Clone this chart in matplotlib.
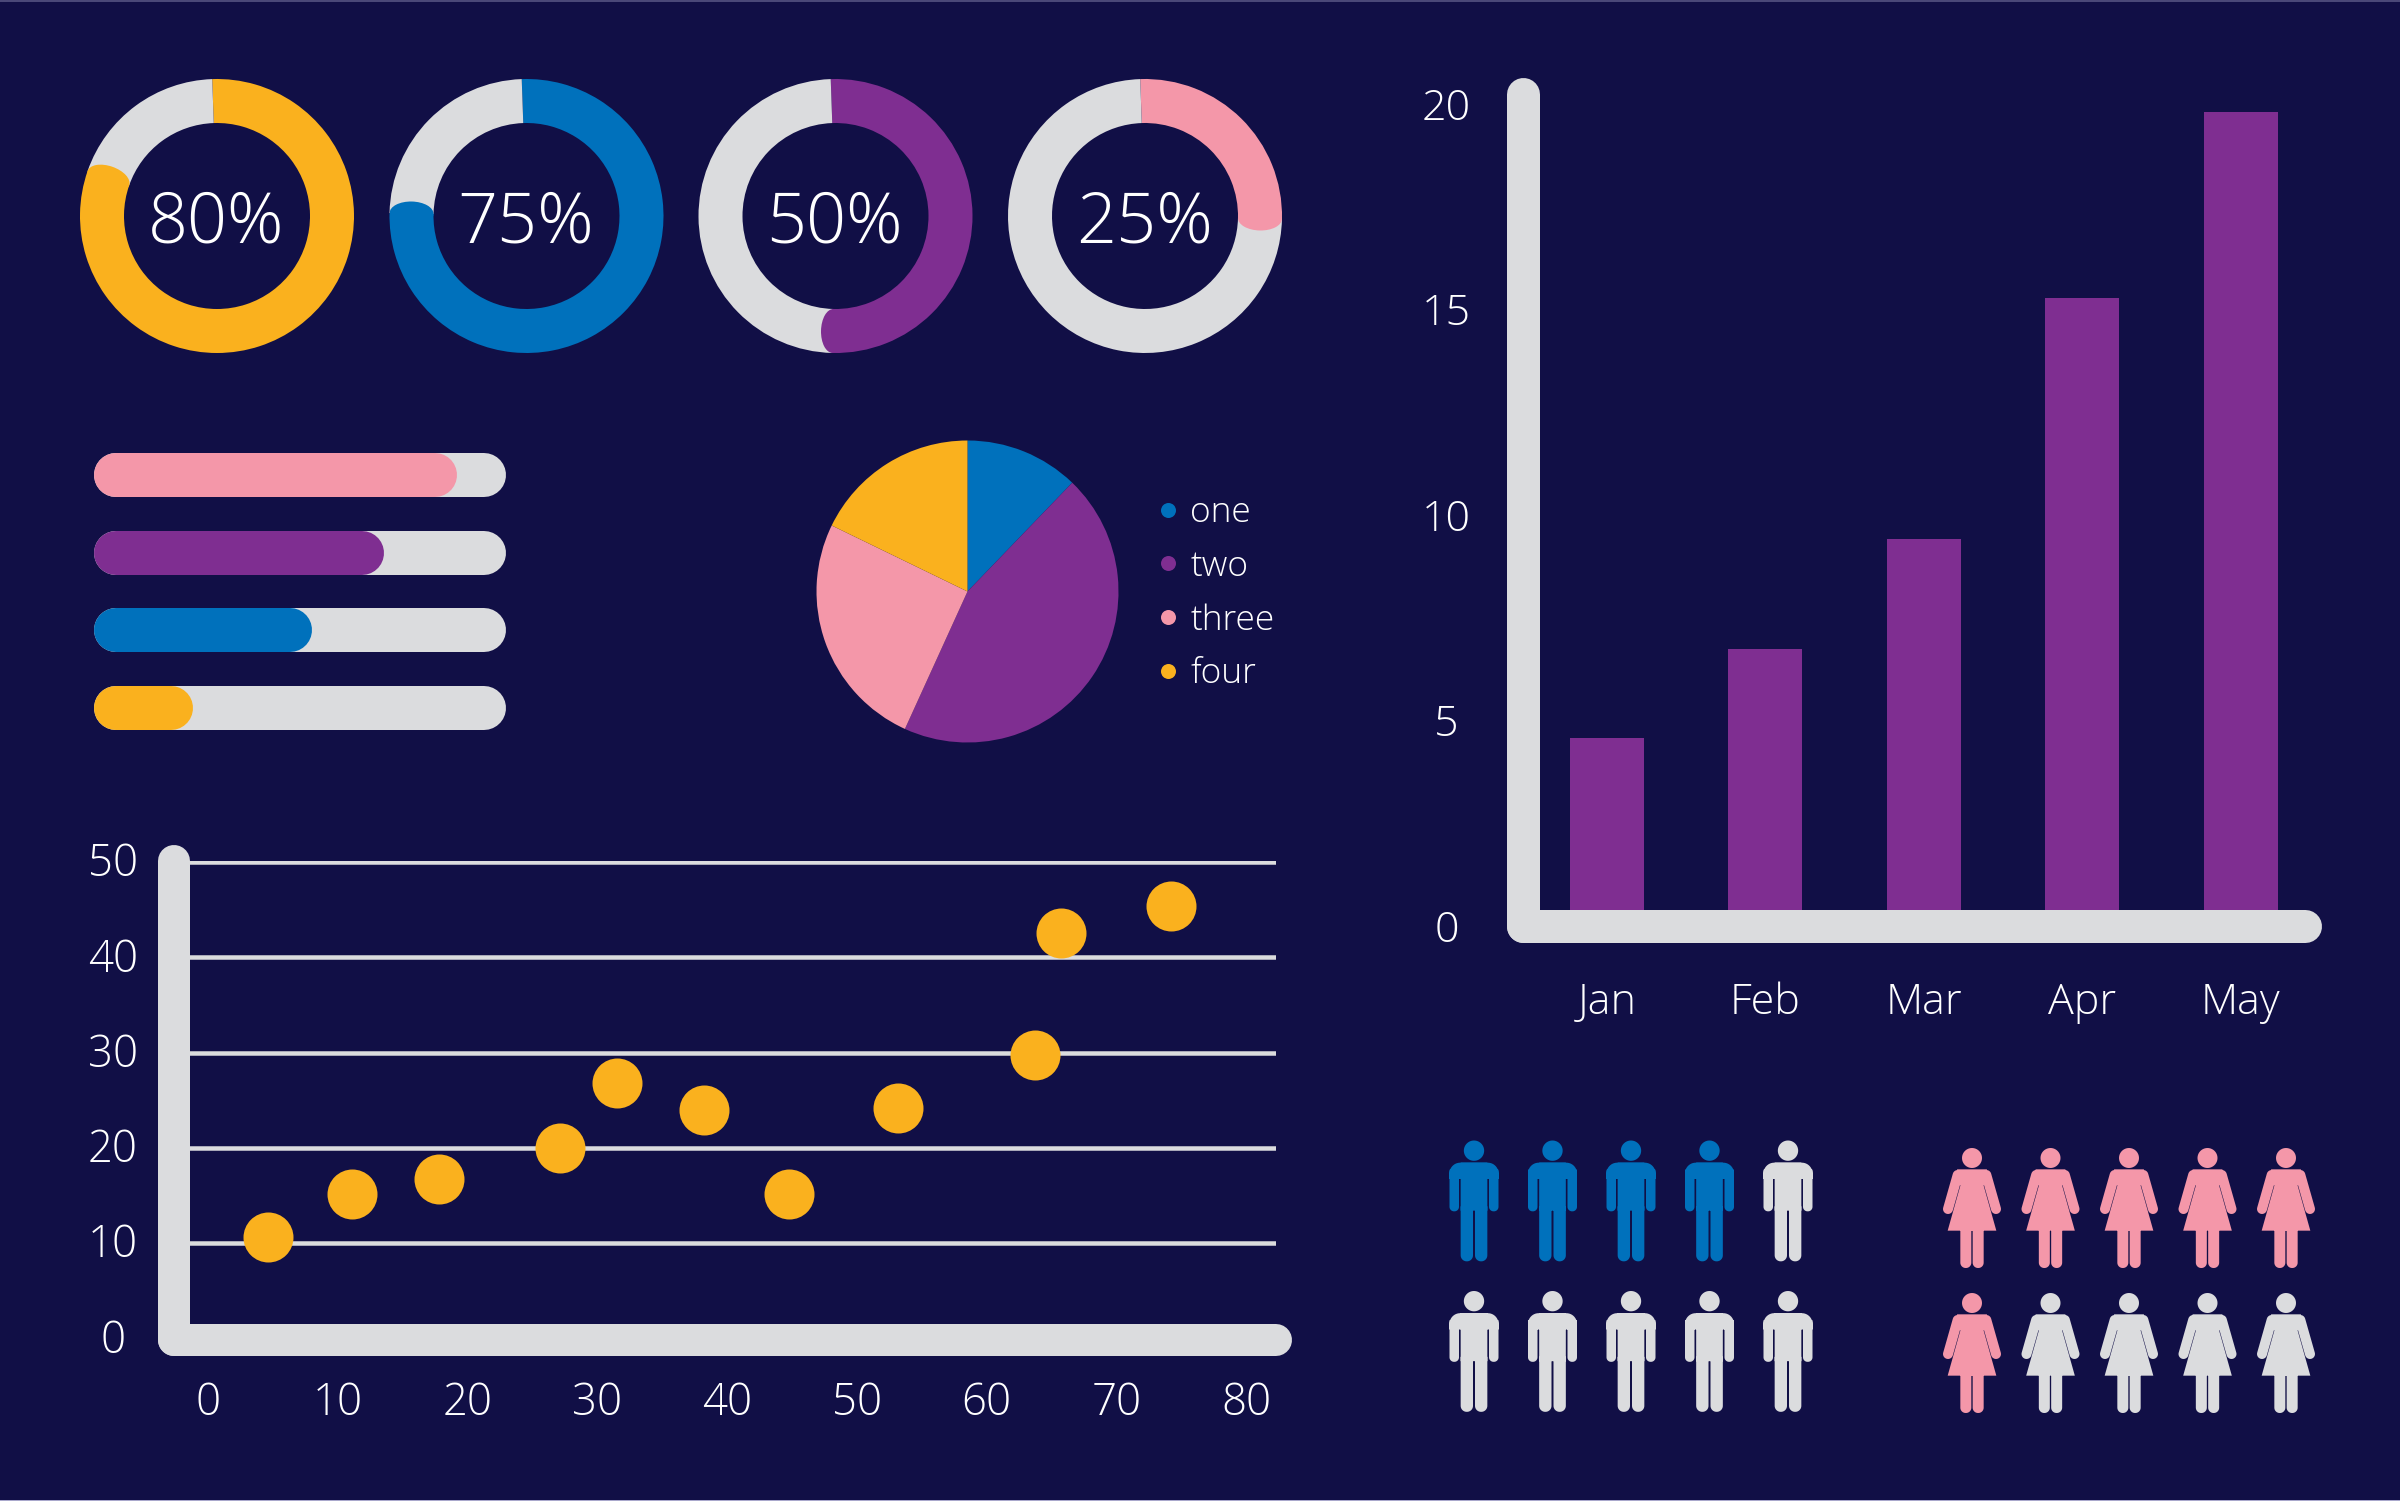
import numpy as np
import matplotlib
matplotlib.use("Agg")
import matplotlib.pyplot as plt
import matplotlib.transforms as mtrans
from matplotlib.patches import Ellipse, Rectangle
from matplotlib.path import Path
from matplotlib.lines import Line2D
from matplotlib import font_manager as fm

# ---------- data ----------
donut_values = [80, 75, 50, 25]
progress_values = [88, 70.5, 53, 24]
pie_labels = ["one", "two", "three", "four"]
pie_values = [12.2, 44.6, 25.4, 17.8]
scatter_x = [4.6, 11.1, 17.8, 27.1, 31.5, 38.2, 44.8, 53.2, 63.7, 65.7, 74.2]
scatter_y = [10.7, 15.2, 16.7, 20.0, 26.8, 24.0, 15.2, 24.2, 29.8, 42.5, 45.4]
scatter_xticks = [0, 10, 20, 30, 40, 50, 60, 70, 80]
scatter_yticks = [0, 10, 20, 30, 40, 50]
months = ["Jan", "Feb", "Mar", "Apr", "May"]
month_values = [4.58, 6.74, 9.42, 15.27, 19.8]
bar_yticks = [0, 5, 10, 15, 20]
men_filled = 4
women_filled = 6
people_total = 10

# ---------- style ----------
W, H = 2400, 1501
BG = "#110F46"
ORANGE = "#FAB11E"
BLUE = "#0071BC"
PURPLE = "#7F2E91"
PINK = "#F497A9"
GREY = "#DBDCDE"
lights = sorted({f.name for f in fm.fontManager.ttflist if f.weight in (200, 300, "light", "extra light")})
FAMILY = "Open Sans" if "Open Sans" in lights else (lights[0] if lights else "Open Sans")
plt.rcParams["font.family"] = [FAMILY, "DejaVu Sans"]
plt.rcParams["font.weight"] = "light"
PX = 72 / 100  # points per pixel at dpi 100

fig = plt.figure(figsize=(W / 100, H / 100), dpi=100, facecolor=BG)
fig.add_artist(Rectangle((0, 1 - 1.5 / H), 1, 1.5 / H, transform=fig.transFigure, fc="#4A4878", lw=0))
fig.add_artist(Rectangle((0, 0), 1, 1.5 / H, transform=fig.transFigure, fc="#A9A8CC", lw=0))


def px_axes(x0, y0, x1, y1):
    ax = fig.add_axes([x0 / W, 1 - y1 / H, (x1 - x0) / W, (y1 - y0) / H])
    ax.set_facecolor("none")
    return ax


# ---------- donuts ----------
donut_centres = [217, 526.5, 835.5, 1145]
donut_colors = [ORANGE, BLUE, PURPLE, PINK]
R_OUT, R_IN = 137, 93
START = 2.0     # degrees the ring start sits left of twelve o'clock
OVER = 0.9      # share the drawn arc runs past its value, with the flat cap
for cx, v, c in zip(donut_centres, donut_values, donut_colors):
    ax = px_axes(cx - R_OUT, 216 - R_OUT, cx + R_OUT, 216 + R_OUT)
    shown = v + OVER
    ax.pie([shown, 100 - shown], colors=[c, GREY], startangle=90 + START, counterclock=False,
           radius=1, wedgeprops=dict(width=(R_OUT - R_IN) / R_OUT, linewidth=0))
    deg = 90 + START - shown * 3.6
    a = np.deg2rad(deg)
    rm = (R_OUT + R_IN) / 2 / R_OUT
    ax.add_patch(Ellipse((rm * np.cos(a), rm * np.sin(a)), 2 * 12 / R_OUT, (R_OUT - R_IN) / R_OUT,
                         angle=deg + 90, fc=c, lw=0, zorder=5))
    ax.set_xlim(-1, 1)
    ax.set_ylim(-1, 1)
    ax.text(-0.005, -0.06, f"{v}%", color="white", fontsize=50.5, ha="center", va="center", zorder=6)

# ---------- progress bars ----------
ax = px_axes(94, 453, 506, 730)
ax.set_xlim(0, 100)
ax.set_ylim(3.283, -0.283)
ax.axis("off")
cap = 22 / 412 * 100
for i, (v, c) in enumerate(zip(progress_values, [PINK, PURPLE, BLUE, ORANGE])):
    ax.plot([cap, 100 - cap], [i, i], color=GREY, lw=44 * PX, solid_capstyle="round", clip_on=False)
    ax.plot([cap, v - cap], [i, i], color=c, lw=44 * PX, solid_capstyle="round", clip_on=False)

# ---------- pie ----------
ax = px_axes(967.5 - 151, 591.5 - 151, 967.5 + 151, 591.5 + 151)
pie_colors = [BLUE, PURPLE, PINK, ORANGE]
ax.pie(pie_values, colors=pie_colors, startangle=90, counterclock=False, radius=1, wedgeprops=dict(linewidth=0))
ax.set_xlim(-1, 1)
ax.set_ylim(-1, 1)
handles = [Line2D([], [], ls="", marker="o", ms=15 * PX, mfc=c, mec="none", label=l)
           for c, l in zip(pie_colors, pie_labels)]
leg = fig.legend(handles=handles, loc="upper left", bbox_to_anchor=(1150 / W, 1 - 495.5 / H),
                 bbox_transform=fig.transFigure, frameon=False, fontsize=25.5, labelcolor="white",
                 handlelength=1.0, handletextpad=0.14, labelspacing=0.545, borderpad=0, borderaxespad=0)


# ---------- axis styling shared by the two charts ----------
def frame(ax, lw_px, ypad, xpad, label_shift_px, size):
    for s in ["top", "right"]:
        ax.spines[s].set_visible(False)
    for s in ["left", "bottom"]:
        ax.spines[s].set_linewidth(lw_px * PX)
        ax.spines[s].set_color(GREY)
        ax.spines[s].set_capstyle("round")
        ax.spines[s].set_zorder(6)
    ax.tick_params(axis="both", length=0, colors="white", labelsize=size)
    ax.tick_params(axis="y", pad=ypad)
    ax.tick_params(axis="x", pad=xpad)
    shift = mtrans.ScaledTranslation(0, label_shift_px * PX / 72, fig.dpi_scale_trans)
    for t in ax.get_yticklabels():
        t.set_ha("center")
        t.set_transform(t.get_transform() + shift)


# ---------- scatter ----------
ax = px_axes(174, 861, 1276, 1340)
ax.set_xlim(-2.62, 82.3)
ax.set_ylim(-0.15, 50.1)
ax.set_xticks(scatter_xticks)
ax.set_yticks(scatter_yticks)
ax.set_axisbelow(True)
ax.grid(axis="y", color=GREY, lw=4.5 * PX)
ax.scatter(scatter_x, scatter_y, s=(50 * PX) ** 2, color=ORANGE, lw=0, zorder=4, clip_on=False)
frame(ax, 32, 44, 30, 2.5, 31.5)

# ---------- bars ----------
ax = px_axes(1523, 94, 2305, 926)
ax.set_xlim(-0.53, 4.406)
ax.set_ylim(0, 20.24)
ax.bar(months, month_values, width=0.467, color=PURPLE, lw=0, zorder=3)
ax.set_yticks(bar_yticks)
frame(ax, 33, 55, 40, 0.5, 31)


# ---------- pictograms ----------
def rrect(x0, x1, y0, y1, rb=0.0, rt=0.0, n=12):
    """Rounded rectangle outline, same winding for every call."""
    pts = []
    for cx, cy, r, a0 in [(x1 - rb, y1 - rb, rb, 0), (x0 + rb, y1 - rb, rb, 90),
                          (x0 + rt, y0 + rt, rt, 180), (x1 - rt, y0 + rt, rt, 270)]:
        t = np.deg2rad(np.linspace(a0, a0 + 90, n))
        pts.append(np.c_[cx + r * np.cos(t), cy + r * np.sin(t)])
    return np.vstack(pts)


def circle(cx, cy, r, n=48):
    t = np.linspace(0, 2 * np.pi, n)
    return np.c_[cx + r * np.cos(t), cy + r * np.sin(t)]


def stadium(p, q, r, n=14):
    p, q = np.array(p, float), np.array(q, float)
    a = np.arctan2(*(q - p)[::-1])
    t1 = np.linspace(a - np.pi / 2, a + np.pi / 2, n)
    t2 = t1 + np.pi
    return np.vstack([q + r * np.c_[np.cos(t1), np.sin(t1)], p + r * np.c_[np.cos(t2), np.sin(t2)]])


def glyph(parts, ymid, half):
    paths = []
    for pts in parts:
        pts = np.array(pts, float)
        xy = np.c_[pts[:, 0] / half, -(pts[:, 1] - ymid) / half]
        # keep one winding direction so overlaps stay filled
        area = 0.5 * np.sum(xy[:, 0] * np.roll(xy[:, 1], -1) - np.roll(xy[:, 0], -1) * xy[:, 1])
        if area < 0:
            xy = xy[::-1]
        xy = np.vstack([xy, xy[0]])
        codes = [Path.MOVETO] + [Path.LINETO] * (len(xy) - 2) + [Path.CLOSEPOLY]
        paths.append(Path(xy, codes))
    return Path.make_compound_path(*paths)


man = glyph([
    circle(0, 93, 30.5),
    rrect(-73.5, 73.5, 129, 178, rb=0, rt=32),
    rrect(-73.5, -45, 150, 275, rb=13.5),
    rrect(45, 73.5, 150, 275, rb=13.5),
    rrect(-40, 40, 129, 273),
    rrect(-40, -3, 260, 425, rb=18),
    rrect(3, 40, 260, 425, rb=18),
], 244, 181)

woman = glyph([
    circle(0, 84, 30),
    [(-45, 118), (45, 118), (35, 167), (73, 302), (-73, 302), (-35, 167)],
    stadium((-43, 135), (-72, 237), 15),
    stadium((43, 135), (72, 237), 15),
    rrect(-35, -2, 295, 414, rb=16),
    rrect(2, 35, 295, 414, rb=16),
], 234, 180)


def people(box, marker, filled, color, height_px):
    ax = px_axes(*box)
    ax.set_xlim(0, 4)
    ax.set_ylim(1, 0)
    ax.axis("off")
    cols = np.arange(people_total) % 5
    rows = np.arange(people_total) // 5
    cs = [color if i < filled else GREY for i in range(people_total)]
    ax.scatter(cols, rows, marker=marker, s=(height_px * PX) ** 2, c=cs, lw=0, clip_on=False)


people((1474, 1201, 1788, 1351.5), man, men_filled, BLUE, 121)
people((1972, 1208, 2286, 1353), woman, women_filled, PINK, 120)

fig.savefig("out.png", dpi=100, facecolor=BG)
